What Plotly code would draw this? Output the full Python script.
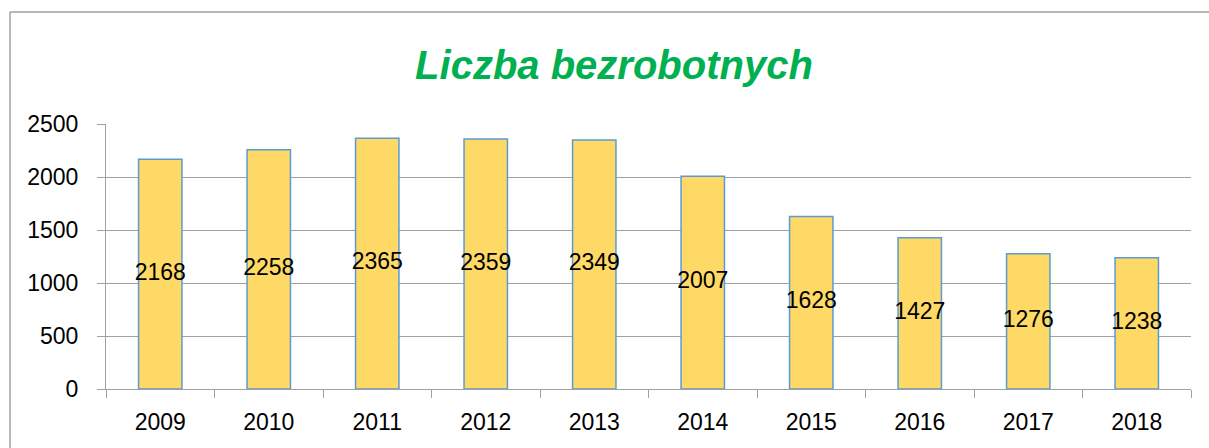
import plotly.graph_objects as go

years = ["2009", "2010", "2011", "2012", "2013", "2014", "2015", "2016", "2017", "2018"]
unemployed = [2168, 2258, 2365, 2359, 2349, 2007, 1628, 1427, 1276, 1238]
y_ticks = [0, 500, 1000, 1500, 2000, 2500]
title_text = "Liczba bezrobotnych"

FONT = "Liberation Sans, Arial, sans-serif"
GRID = "#A0A0A0"

fig = go.Figure()
fig.add_trace(go.Bar(
    x=years, y=unemployed, width=0.4,
    marker=dict(color="#FFD966", line=dict(color="#5B9BD5", width=1.5)),
    hoverinfo="skip",
))
fig.add_trace(go.Scatter(
    x=years, y=[v / 2 for v in unemployed],
    mode="text", text=[str(v) for v in unemployed],
    textposition="middle center",
    textfont=dict(family=FONT, size=23, color="#000000"),
    hoverinfo="skip",
))

W, H = 1209, 448
L, R, T, B = 106, 18, 124, 59
pw, ph = W - L - R, H - T - B

def px(x):
    return (x - L) / pw

def py(y):
    return (H - B - y) / ph

fig.update_layout(
    width=W, height=H,
    margin=dict(l=L, r=R, t=T, b=B),
    paper_bgcolor="white", plot_bgcolor="white",
    showlegend=False,
    title=dict(text="<b><i>" + title_text + "</i></b>", x=614 / W, xanchor="center",
               y=1 - 65 / H, yanchor="middle", yref="container",
               font=dict(family=FONT, size=40, color="#00B050")),
    xaxis=dict(type="category", showgrid=False, showline=True, linecolor=GRID, linewidth=1,
               ticks="outside", tickson="boundaries", ticklen=8, tickcolor=GRID,
               tickfont=dict(family=FONT, size=23, color="#000000"),
               ticklabelstandoff=12, range=[-0.5, 9.5]),
    yaxis=dict(range=[0, 2500], tickvals=y_ticks, showgrid=True, gridcolor=GRID, gridwidth=1,
               showline=True, linecolor=GRID, linewidth=1, zeroline=False,
               ticks="outside", ticklen=8, tickcolor=GRID,
               tickfont=dict(family=FONT, size=23, color="#000000"),
               ticklabelstandoff=14),
    shapes=[
        dict(type="line", xref="paper", yref="paper", x0=px(10), x1=px(W), y0=py(12), y1=py(12),
             line=dict(color="#A0A0A0", width=1.5)),
        dict(type="line", xref="paper", yref="paper", x0=px(10), x1=px(10), y0=py(12), y1=py(H),
             line=dict(color="#A0A0A0", width=1.5)),
    ],
)

fig.write_html(
    "out.html",
    config={"displayModeBar": False},
    post_script="document.body.style.margin='0';document.body.style.overflow='hidden';",
)
